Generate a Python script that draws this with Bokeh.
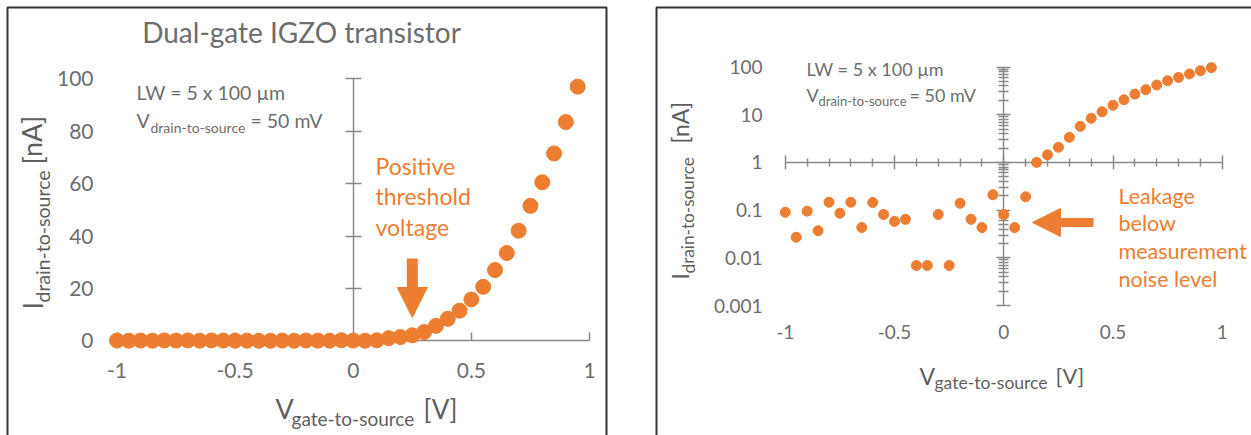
from bokeh.plotting import figure
from bokeh.models import (LinearAxis, LogAxis, FixedTicker, Range1d, BoxAnnotation,
                          Arrow, NormalHead, CustomJSTickFormatter)
from bokeh.layouts import row
from bokeh.core.properties import value
from bokeh.embed import file_html
from bokeh.resources import INLINE

# ---------------- data ----------------
v_gs = [-1.0, -0.95, -0.9, -0.85, -0.8, -0.75, -0.7, -0.65, -0.6, -0.55,
        -0.5, -0.45, -0.4, -0.35, -0.3, -0.25, -0.2, -0.15, -0.1, -0.05,
        0.0, 0.05, 0.1, 0.15, 0.2, 0.25, 0.3, 0.35, 0.4, 0.45,
        0.5, 0.55, 0.6, 0.65, 0.7, 0.75, 0.8, 0.85, 0.9, 0.95]
i_ds = [0.090, 0.027, 0.095, 0.037, 0.146, 0.086, 0.146, 0.043, 0.144, 0.081,
        0.058, 0.064, 0.0069, 0.0069, 0.081, 0.0069, 0.139, 0.064, 0.043, 0.21,
        0.081, 0.043, 0.19, 1.0, 1.44, 2.08, 3.35, 5.7, 8.4, 11.5,
        15.8, 20.6, 27.0, 33.5, 42.0, 51.5, 60.5, 71.5, 83.5, 97.0]

lin_y_ticks = [0, 20, 40, 60, 80, 100]
lin_y_labels = ["0", "20", "40", "60", "80", "100"]
x_ticks = [-1, -0.5, 0, 0.5, 1]
x_labels = ["-1", "-0.5", "0", "0.5", "1"]
x_minor = [-0.9, -0.8, -0.7, -0.6, -0.4, -0.3, -0.2, -0.1,
           0.1, 0.2, 0.3, 0.4, 0.6, 0.7, 0.8, 0.9]
log_y_ticks = [0.001, 0.01, 0.1, 1, 10, 100]
log_y_labels = ["0.001", "0.01", "0.1", "1", "10", "100"]
log_minor = [m * d for d in [0.001, 0.01, 0.1, 1, 10] for m in range(2, 10)]

title_text = "Dual-gate IGZO transistor"
note_lw = "LW = 5 x 100 µm"
note_v_sub = "drain-to-source"
note_v_rest = "= 50 mV"
left_note = ["Positive", "threshold", "voltage"]
right_note = ["Leakage", "below", "measurement", "noise level"]

# ---------------- style ----------------
FONT = "Lato"
ORANGE = "#ED7D31"
AX = "#8a8a8a"
TXT = "#6e6e6e"
LAB = "#5f5f5f"
BORDER = "#333333"

# pixel calibration (positions only)
LX0, LXU, LY0, LYU = 352.75, 236.25, 340.3, 2.62
RX0, RXU, RY1, RYD = 372.3, 218.5, 161.9, 47.7
W1, W2, H = 631, 620, 435


def lx(px):
    return (px - LX0) / LXU


def ly(py):
    return (LY0 - py) / LYU


def rx(px):
    return (px - RX0) / RXU


def ry(py):
    return 10 ** ((RY1 - py) / RYD)


def txt(p, x, y, s, size, color, align="left", baseline="middle", angle=0.0):
    p.text(x=[x], y=[y], text=[s], text_font=value(FONT), text_font_size=size,
           text_color=color, text_align=align, text_baseline=baseline, angle=angle)


blank = CustomJSTickFormatter(code="return ''")


def base_fig(w, xr, yr, ytype="linear"):
    p = figure(width=w, height=H, x_range=xr, y_range=yr, y_axis_type=ytype,
               x_axis_location=None, y_axis_location=None, toolbar_location=None,
               output_backend="svg", min_border=0, outline_line_color=None,
               background_fill_color="white", border_fill_color="white")
    p.grid.visible = False
    return p


def border(left, right, top, bottom):
    return BoxAnnotation(left=left, right=right, top=top, bottom=bottom,
                         fill_color=None, fill_alpha=0, line_color=BORDER,
                         line_alpha=1.0, line_width=2)


# ================= left: linear =================
p1 = base_fig(W1, Range1d(lx(0), lx(W1)), Range1d(ly(H), ly(0)))

p1.add_layout(border(lx(7), lx(606), ly(7), ly(470)))

ya = LinearAxis(fixed_location=0, bounds=(0, 100), ticker=FixedTicker(ticks=lin_y_ticks),
                formatter=blank, major_tick_in=8, major_tick_out=8,
                axis_line_color=AX, axis_line_width=1.5, major_tick_line_color=AX,
                major_tick_line_width=1.5, minor_tick_line_color=None, level="underlay")
p1.add_layout(ya, "left")
xa = LinearAxis(fixed_location=0, bounds=(-1, 1), ticker=FixedTicker(ticks=x_ticks),
                formatter=blank, major_tick_in=8, major_tick_out=0,
                axis_line_color=AX, axis_line_width=1.5, major_tick_line_color=AX,
                major_tick_line_width=1.5, minor_tick_line_color=None, level="underlay")
p1.add_layout(xa, "below")

yl = LinearAxis(fixed_location=lx(97), ticker=FixedTicker(ticks=lin_y_ticks),
                major_label_overrides=dict(zip(lin_y_ticks, lin_y_labels)),
                axis_line_color=None, major_tick_line_color=None, minor_tick_line_color=None,
                major_tick_in=0, major_tick_out=0, major_label_standoff=4,
                major_label_text_font=FONT, major_label_text_font_size="21px",
                major_label_text_color=TXT)
p1.add_layout(yl, "left")
xl = LinearAxis(fixed_location=ly(358), ticker=FixedTicker(ticks=x_ticks),
                major_label_overrides=dict(zip(x_ticks, x_labels)),
                axis_line_color=None, major_tick_line_color=None, minor_tick_line_color=None,
                major_tick_in=0, major_tick_out=0, major_label_standoff=4,
                major_label_text_font=FONT, major_label_text_font_size="21px",
                major_label_text_color=TXT)
p1.add_layout(xl, "below")

p1.scatter(v_gs, i_ds, size=15, color=ORANGE, line_color=ORANGE)

txt(p1, lx(301), ly(31), title_text, "28px", TXT, align="center")
txt(p1, lx(136), ly(92), note_lw, "19.5px", TXT)
txt(p1, lx(136), ly(120), "V", "19.5px", TXT)
txt(p1, lx(150), ly(127), note_v_sub, "14px", TXT)
txt(p1, lx(250), ly(120), note_v_rest, "19.5px", TXT)
for i, s in enumerate(left_note):
    txt(p1, lx(375), ly(165 + 30.5 * i), s, "23px", ORANGE)

p1.add_layout(Arrow(end=NormalHead(size=30, fill_color=ORANGE, line_color=ORANGE, line_width=1),
                    x_start=0.25, y_start=ly(258), x_end=0.25, y_end=ly(317),
                    line_color=ORANGE, line_width=11))

# axis titles
txt(p1, lx(275), ly(408), "V", "27px", LAB)
txt(p1, lx(291), ly(418), "gate-to-source", "19px", LAB)
txt(p1, lx(423), ly(408), "[V]", "26px", LAB)
txt(p1, lx(31.5), ly(309), "I", "27px", LAB, angle=1.5708)
txt(p1, lx(42), ly(302), "drain-to-source", "19.5px", LAB, angle=1.5708)
txt(p1, lx(31.5), ly(164), "[nA]", "27px", LAB, angle=1.5708)

# ================= right: log =================
p2 = base_fig(W2, Range1d(rx(0), rx(W2)), Range1d(ry(H), ry(0)), ytype="log")

p2.add_layout(border(rx(25), rx(700), ry(7), ry(470)))

ya2 = LogAxis(fixed_location=0, bounds=(0.001, 100),
              ticker=FixedTicker(ticks=log_y_ticks, minor_ticks=log_minor),
              formatter=blank, major_tick_in=7, major_tick_out=7, minor_tick_in=5, minor_tick_out=5,
              axis_line_color=AX, axis_line_width=1.5, major_tick_line_color=AX,
              major_tick_line_width=1.5, minor_tick_line_color=AX, minor_tick_line_width=1.5,
              level="underlay")
p2.add_layout(ya2, "left")
xa2 = LinearAxis(fixed_location=1, bounds=(-1, 1),
                 ticker=FixedTicker(ticks=x_ticks, minor_ticks=x_minor),
                 formatter=blank, major_tick_in=7, major_tick_out=7, minor_tick_in=4, minor_tick_out=4,
                 axis_line_color=AX, axis_line_width=1.5, major_tick_line_color=AX,
                 major_tick_line_width=1.5, minor_tick_line_color=AX, minor_tick_line_width=1.5,
                 level="underlay")
p2.add_layout(xa2, "below")

yl2 = LogAxis(fixed_location=rx(135), ticker=FixedTicker(ticks=log_y_ticks),
              major_label_overrides=dict(zip(log_y_ticks, log_y_labels)),
              axis_line_color=None, major_tick_line_color=None, minor_tick_line_color=None,
              major_tick_in=0, major_tick_out=0, major_label_standoff=4,
              major_label_text_font=FONT, major_label_text_font_size="19px",
              major_label_text_color=TXT)
p2.add_layout(yl2, "left")
xl2 = LinearAxis(fixed_location=ry(320), ticker=FixedTicker(ticks=x_ticks),
                 major_label_overrides=dict(zip(x_ticks, x_labels)),
                 axis_line_color=None, major_tick_line_color=None, minor_tick_line_color=None,
                 major_tick_in=0, major_tick_out=0, major_label_standoff=4,
                 major_label_text_font=FONT, major_label_text_font_size="19px",
                 major_label_text_color=TXT)
p2.add_layout(xl2, "below")

p2.scatter(v_gs, i_ds, size=10, color=ORANGE, line_color=ORANGE)

txt(p2, rx(175), ry(68.5), note_lw, "18px", TXT)
txt(p2, rx(175), ry(94), "V", "18px", TXT)
txt(p2, rx(187), ry(100.5), note_v_sub, "13px", TXT)
txt(p2, rx(278), ry(94), note_v_rest, "18px", TXT)
for i, s in enumerate(right_note):
    txt(p2, rx(487), ry(195 + 27.8 * i), s, "21.5px", ORANGE)

p2.add_layout(Arrow(end=NormalHead(size=28, fill_color=ORANGE, line_color=ORANGE, line_width=1),
                    x_start=rx(462), y_start=ry(222), x_end=rx(401), y_end=ry(222),
                    line_color=ORANGE, line_width=9))

txt(p2, rx(288), ry(375), "V", "23px", LAB)
txt(p2, rx(303), ry(382), "gate-to-source", "17.5px", LAB)
txt(p2, rx(424), ry(375), "[V]", "22px", LAB)
txt(p2, rx(48.5), ry(279), "I", "23px", LAB, angle=1.5708)
txt(p2, rx(56.5), ry(273), "drain-to-source", "17.2px", LAB, angle=1.5708)
txt(p2, rx(48.5), ry(143), "[nA]", "23px", LAB, angle=1.5708)

layout = row(p1, p2)
open("out.html", "w").write(file_html(layout, INLINE))
